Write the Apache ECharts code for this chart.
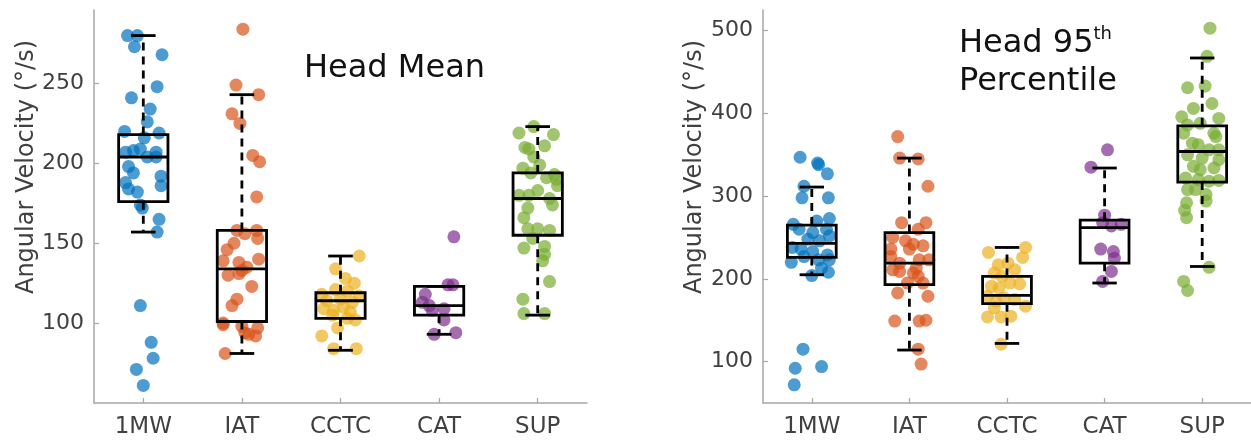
<!DOCTYPE html>
<html>
<head>
<meta charset="utf-8">
<script src="https://cdn.jsdelivr.net/npm/echarts@6/dist/echarts.min.js"></script>
<style>
html,body{margin:0;padding:0;background:#fff;}
#chart{width:1251px;height:441px;}
</style>
</head>
<body>
<div id="chart"></div>
<script>
// ---------- data ----------
const categories = ['1MW', 'IAT', 'CCTC', 'CAT', 'SUP'];
const colors = ['#0072BD', '#D95319', '#EDB120', '#7E2F8E', '#77AC30'];

const leftTicks = [100, 150, 200, 250];
const rightTicks = [100, 200, 300, 400, 500];

// Head Mean: point values and their horizontal jitter (category units)
const mean1MW = [280, 280, 273, 268, 248, 241, 234, 226, 220, 219, 216, 208, 207, 209, 207, 204, 204, 198, 194, 192, 186, 188, 184, 182, 174, 172, 165, 157, 111, 88, 78, 71, 61];
const mean1MWJit = [-0.16, -0.06, -0.09, 0.19, 0.14, -0.12, 0.07, 0.04, -0.19, 0.16, 0.01, -0.10, -0.18, -0.03, 0.13, 0.04, 0.13, -0.15, -0.10, 0.18, 0.18, -0.18, -0.15, -0.06, -0.03, -0.01, 0.16, 0.14, -0.03, 0.08, 0.10, -0.07, 0.00];
const meanIAT = [284, 249, 243, 231, 225, 205, 201, 179, 158, 156, 158, 153, 150, 146, 139, 138, 135, 140, 130, 131, 133, 123, 115, 111, 100, 98, 94, 97, 93, 92, 81, 99];
const meanIATJit = [0.01, -0.06, 0.17, -0.10, -0.02, 0.11, 0.18, 0.15, -0.05, 0.03, 0.15, 0.16, -0.08, -0.15, -0.19, -0.03, 0.05, 0.17, -0.14, -0.03, 0.00, 0.10, -0.05, -0.10, -0.19, 0.00, 0.03, 0.16, 0.07, 0.14, -0.17, -0.19];
const meanCCTC = [142, 134, 128, 125, 121, 118, 120, 117, 114, 115, 113, 109, 108, 107, 110, 102, 103, 97, 92, 84, 84, 105];
const meanCCTCJit = [0.19, -0.05, 0.05, 0.14, -0.05, -0.19, 0.07, 0.19, -0.14, 0.00, 0.12, -0.17, -0.07, 0.10, 0.03, 0.15, 0.07, -0.03, -0.19, -0.07, 0.16, -0.08];
const meanCAT = [154, 124, 124, 118, 113, 111, 109, 108, 102, 93, 94];
const meanCATJit = [0.15, 0.09, 0.14, -0.14, -0.17, -0.10, 0.05, -0.07, 0.05, -0.05, 0.17];
const meanSUP = [219, 223, 218, 210, 209, 211, 204, 199, 197, 194, 191, 190, 193, 183, 180, 178, 174, 172, 166, 159, 159, 158, 153, 147, 148, 143, 139, 126, 115, 106, 106, 180, 186];
const meanSUPJit = [-0.19, -0.04, 0.16, -0.13, -0.09, 0.07, -0.04, 0.02, -0.15, -0.07, 0.09, 0.19, 0.17, 0.00, -0.09, 0.12, 0.15, -0.10, -0.14, -0.10, 0.00, 0.12, -0.05, -0.14, 0.07, 0.07, 0.05, 0.12, -0.15, -0.14, 0.07, -0.19, 0.20];

// Head Mean box statistics per category
const meanLow = [157, 81, 83, 93, 105];
const meanQ1 = [176, 101, 103, 105, 155];
const meanMed = [204, 134, 114, 111, 178];
const meanQ3 = [218, 158, 119, 123, 194];
const meanHigh = [280, 243, 142, 123, 223];

// Head 95th percentile: point values and jitter
const p95_1MW = [347, 340, 338, 327, 312, 298, 298, 266, 273, 270, 260, 256, 260, 252, 248, 246, 238, 236, 233, 229, 227, 220, 223, 223, 213, 208, 204, 115, 92, 94, 72];
const p95_1MWJit = [-0.12, 0.06, 0.07, 0.16, -0.08, -0.10, 0.17, -0.19, 0.18, 0.05, -0.13, 0.01, 0.15, 0.18, -0.04, 0.08, -0.20, -0.11, 0.01, 0.16, -0.08, -0.21, 0.07, 0.18, 0.10, 0.17, 0.00, -0.09, -0.17, 0.10, -0.18];
const p95_IAT = [372, 346, 345, 312, 268, 268, 260, 250, 246, 240, 242, 236, 236, 227, 223, 223, 209, 211, 207, 203, 195, 195, 183, 179, 149, 149, 150, 115, 97, 219, 213];
const p95_IATJit = [-0.12, -0.10, 0.09, 0.19, -0.08, 0.17, 0.09, -0.17, -0.04, 0.14, 0.04, 0.00, -0.19, -0.19, 0.10, 0.20, -0.10, -0.17, 0.04, 0.09, -0.02, 0.14, -0.12, 0.19, -0.15, 0.10, 0.17, 0.09, 0.12, -0.10, 0.07];
const p95_CCTC = [238, 232, 226, 217, 219, 211, 207, 203, 194, 191, 189, 195, 179, 177, 175, 167, 165, 154, 154, 155, 121, 173];
const p95_CCTCJit = [0.19, -0.19, 0.16, -0.09, 0.01, 0.08, -0.13, -0.05, 0.13, -0.16, -0.08, 0.03, -0.20, -0.03, 0.08, 0.19, -0.13, -0.20, -0.06, 0.04, -0.06, -0.11];
const p95_CAT = [356, 335, 277, 264, 268, 266, 236, 233, 225, 209, 197];
const p95_CATJit = [0.03, -0.14, 0.00, 0.07, -0.02, 0.17, -0.04, 0.09, 0.10, 0.07, -0.02];
const p95_SUP = [503, 469, 431, 433, 412, 406, 396, 394, 386, 388, 376, 376, 372, 364, 362, 356, 356, 350, 346, 344, 336, 332, 334, 322, 320, 318, 319, 308, 308, 294, 292, 283, 274, 214, 197, 186, 302];
const p95_SUPJit = [0.08, 0.05, -0.15, 0.03, 0.10, -0.09, -0.21, 0.17, -0.15, -0.02, -0.19, 0.12, 0.14, -0.10, -0.04, 0.07, 0.17, -0.15, 0.00, 0.17, -0.09, -0.02, 0.12, -0.17, -0.04, 0.07, 0.17, -0.15, -0.07, 0.04, -0.16, -0.18, -0.16, 0.07, -0.19, -0.15, 0.04];

// Head 95th box statistics per category
const p95Low = [205, 114, 122, 195, 215];
const p95Q1 = [226, 193, 170, 219, 317];
const p95Med = [243, 219, 180, 262, 354];
const p95Q3 = [265, 256, 203, 271, 385];
const p95High = [311, 346, 238, 334, 467];

// ---------- chart ----------
const FONT = 'DejaVu Sans';
const AXIS_COLOR = '#a6a6a6';
const TEXT_COLOR = '#404040';

const chart = echarts.init(document.getElementById('chart'), null, {renderer: 'canvas'});

function boxRender(params, api) {
  const x = api.value(0);
  const lo = api.value(1), q1 = api.value(2), md = api.value(3), q3 = api.value(4), hi = api.value(5);
  const halfBox = api.size([0.25, 0])[0];
  const halfCap = api.size([0.125, 0])[0];
  const pLo = api.coord([x, lo]);
  const pQ1 = api.coord([x, q1]);
  const pMd = api.coord([x, md]);
  const pQ3 = api.coord([x, q3]);
  const pHi = api.coord([x, hi]);
  const cx = pMd[0];
  const lw = 2.8;
  const solid = {stroke: '#000', lineWidth: lw, fill: null};
  const dashed = {stroke: '#000', lineWidth: lw, fill: null, lineDash: [8, 6]};
  const children = [];
  if (pHi[1] < pQ3[1] - 0.5) {
    children.push({type: 'line', shape: {x1: cx, y1: pQ3[1], x2: cx, y2: pHi[1]}, style: dashed});
  }
  if (pLo[1] > pQ1[1] + 0.5) {
    children.push({type: 'line', shape: {x1: cx, y1: pQ1[1], x2: cx, y2: pLo[1]}, style: dashed});
  }
  children.push({type: 'line', shape: {x1: cx - halfCap, y1: pHi[1], x2: cx + halfCap, y2: pHi[1]}, style: solid});
  children.push({type: 'line', shape: {x1: cx - halfCap, y1: pLo[1], x2: cx + halfCap, y2: pLo[1]}, style: solid});
  children.push({type: 'rect', shape: {x: cx - halfBox, y: pQ3[1], width: 2 * halfBox, height: pQ1[1] - pQ3[1]}, style: {stroke: '#000', lineWidth: lw, fill: 'rgba(0,0,0,0)'}});
  children.push({type: 'line', shape: {x1: cx - halfBox, y1: pMd[1], x2: cx + halfBox, y2: pMd[1]}, style: solid});
  return {type: 'group', children: children};
}

function boxData(low, q1, med, q3, high) {
  return categories.map((c, i) => [i + 1, low[i], q1[i], med[i], q3[i], high[i]]);
}

function scatterSeries(vals, jit, catIdx, xAxisIndex, yAxisIndex) {
  return {
    type: 'scatter',
    xAxisIndex: xAxisIndex,
    yAxisIndex: yAxisIndex,
    symbol: 'circle',
    symbolSize: 13,
    itemStyle: {color: colors[catIdx], opacity: 0.7},
    data: vals.map((v, k) => [catIdx + 1 + jit[k], v]),
    z: 2,
    silent: true
  };
}

function catAxis(grid) {
  return {
    type: 'category', gridIndex: grid, data: categories, boundaryGap: true,
    axisLine: {show: true, lineStyle: {color: AXIS_COLOR, width: 1.5}},
    axisTick: {show: true, inside: true, alignWithLabel: true, length: 5, lineStyle: {color: AXIS_COLOR, width: 1.2}},
    axisLabel: {color: TEXT_COLOR, fontSize: 23, fontFamily: FONT, margin: 13},
    splitLine: {show: false}
  };
}
function valXAxis(grid) {
  return {type: 'value', gridIndex: grid, min: 0.5, max: 5.5, show: false, splitLine: {show: false}};
}
function yAxis(grid, min, max, ticks) {
  return {
    type: 'value', gridIndex: grid, min: min, max: max,
    axisLine: {show: true, lineStyle: {color: AXIS_COLOR, width: 1.5}},
    axisTick: {show: true, inside: true, length: 5, customValues: ticks, lineStyle: {color: AXIS_COLOR, width: 1.2}},
    axisLabel: {show: true, customValues: ticks, color: TEXT_COLOR, fontSize: 22, fontFamily: FONT, margin: 10},
    splitLine: {show: false}
  };
}

const series = [];
const meanGroups = [[mean1MW, mean1MWJit], [meanIAT, meanIATJit], [meanCCTC, meanCCTCJit], [meanCAT, meanCATJit], [meanSUP, meanSUPJit]];
const p95Groups = [[p95_1MW, p95_1MWJit], [p95_IAT, p95_IATJit], [p95_CCTC, p95_CCTCJit], [p95_CAT, p95_CATJit], [p95_SUP, p95_SUPJit]];
meanGroups.forEach((g, i) => series.push(scatterSeries(g[0], g[1], i, 1, 0)));
p95Groups.forEach((g, i) => series.push(scatterSeries(g[0], g[1], i, 3, 1)));
series.push({
  type: 'custom', xAxisIndex: 1, yAxisIndex: 0, renderItem: boxRender,
  data: boxData(meanLow, meanQ1, meanMed, meanQ3, meanHigh),
  encode: {x: 0, y: [1, 2, 3, 4, 5]}, z: 5, silent: true
});
series.push({
  type: 'custom', xAxisIndex: 3, yAxisIndex: 1, renderItem: boxRender,
  data: boxData(p95Low, p95Q1, p95Med, p95Q3, p95High),
  encode: {x: 0, y: [1, 2, 3, 4, 5]}, z: 5, silent: true
});

const option = {
  animation: false,
  backgroundColor: '#ffffff',
  title: [
    {
      text: 'Head Mean', left: 304, top: 53, padding: 0,
      textStyle: {fontFamily: FONT, fontSize: 32, fontWeight: 'normal', color: '#111'}
    },
    {
      text: '{m|Head 95}{s|th}\n{m|Percentile}', left: 959, top: 25, padding: 0,
      textStyle: {
        fontFamily: FONT, fontSize: 32, fontWeight: 'normal', color: '#111',
        rich: {
          m: {fontFamily: FONT, fontSize: 32, lineHeight: 38, color: '#111'},
          s: {fontFamily: FONT, fontSize: 18, lineHeight: 38, verticalAlign: 'top', color: '#111'}
        }
      }
    }
  ],
  grid: [
    {left: 94, top: 10, width: 493, height: 393, containLabel: false},
    {left: 763, top: 10, width: 492, height: 393, containLabel: false}
  ],
  xAxis: [catAxis(0), valXAxis(0), catAxis(1), valXAxis(1)],
  yAxis: [yAxis(0, 50, 296, leftTicks), yAxis(1, 50, 525, rightTicks)],
  graphic: [
    {type: 'text', x: 27, y: 167, rotation: Math.PI / 2,
      style: {text: 'Angular Velocity (°/s)', fontSize: 24, fontFamily: FONT, fill: TEXT_COLOR, align: 'center', verticalAlign: 'middle'}},
    {type: 'text', x: 695, y: 167, rotation: Math.PI / 2,
      style: {text: 'Angular Velocity (°/s)', fontSize: 24, fontFamily: FONT, fill: TEXT_COLOR, align: 'center', verticalAlign: 'middle'}}
  ],
  series: series
};
chart.setOption(option);
</script>
</body>
</html>
